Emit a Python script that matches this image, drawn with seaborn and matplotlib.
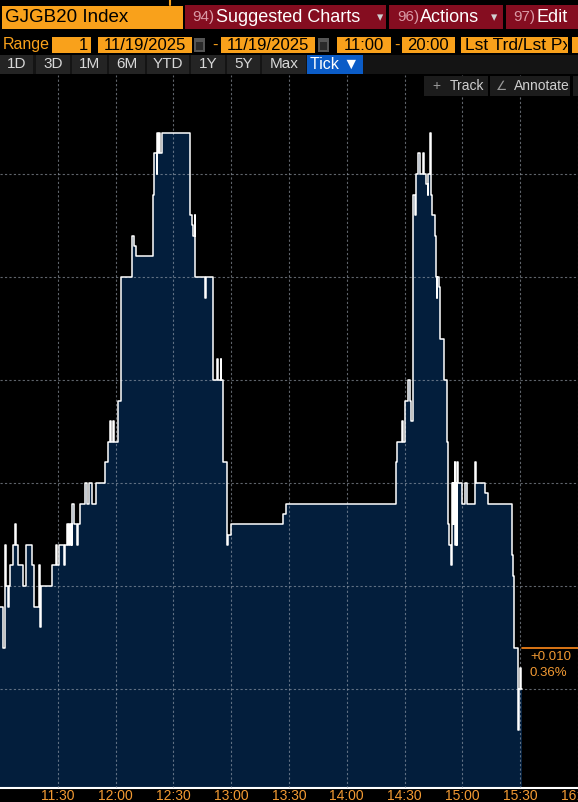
import matplotlib
matplotlib.use("Agg")
import matplotlib.pyplot as plt
import matplotlib.dates as mdates
from matplotlib.patches import Rectangle
from matplotlib.transforms import Bbox, TransformedBbox
import numpy as np
import pandas as pd
import seaborn as sns

# tick data (time of trade, yield)
times = [
    "11:00:00", "11:01:33", "11:02:45", "11:02:54", "11:04:18", "11:04:50", "11:05:21", "11:06:54",
    "11:07:56", "11:08:28", "11:09:11", "11:12:06", "11:13:45", "11:16:27", "11:17:48", "11:20:24",
    "11:20:46", "11:21:26", "11:27:09", "11:29:04", "11:29:26", "11:30:28", "11:33:22", "11:33:38",
    "11:34:56", "11:35:18", "11:35:49", "11:36:20", "11:36:51", "11:37:10", "11:37:32", "11:38:25",
    "11:40:07", "11:40:23", "11:41:41", "11:44:16", "11:45:19", "11:46:21", "11:47:45", "11:49:40",
    "11:54:30", "11:56:13", "11:57:15", "11:57:31", "11:58:48", "11:59:10", "12:01:24", "12:02:58",
    "12:08:31", "12:09:42", "12:10:45", "12:19:34", "12:20:05", "12:21:20", "12:21:39", "12:22:00",
    "12:22:32", "12:22:53", "12:24:14", "12:38:46", "12:39:30", "12:40:01", "12:41:13", "12:41:22",
    "12:46:34", "12:46:49", "12:50:43", "12:52:47", "12:53:18", "12:54:33", "12:54:52", "12:55:45",
    "12:57:34", "12:58:30", "12:59:54", "13:26:44", "13:28:17", "14:25:17", "14:26:13", "14:28:39",
    "14:29:01", "14:30:13", "14:31:55", "14:32:48", "14:33:10", "14:34:31", "14:35:33", "14:35:42",
    "14:37:07", "14:38:09", "14:39:33", "14:39:55", "14:40:57", "14:42:00", "14:42:18", "14:43:21",
    "14:43:33", "14:44:23", "14:45:37", "14:46:18", "14:46:40", "14:46:49", "14:47:42", "14:48:32",
    "14:50:36", "14:51:51", "14:52:41", "14:53:12", "14:53:56", "14:54:36", "14:54:58", "14:55:17",
    "14:55:38", "14:56:00", "14:56:19", "14:56:41", "14:57:02", "14:57:21", "14:57:43", "14:59:48",
    "15:01:31", "15:02:33", "15:06:42", "15:07:04", "15:11:44", "15:13:27", "15:25:54", "15:26:25",
    "15:26:56", "15:29:01", "15:29:23", "15:30:03", "15:30:25", "15:31:05",
]
yields = [
    2.800, 2.790, 2.815, 2.805, 2.800, 2.805, 2.810, 2.815,
    2.820, 2.815, 2.810, 2.805, 2.815, 2.810, 2.800, 2.810,
    2.795, 2.805, 2.810, 2.815, 2.810, 2.815, 2.810, 2.815,
    2.820, 2.815, 2.820, 2.815, 2.820, 2.815, 2.825, 2.820,
    2.815, 2.820, 2.825, 2.830, 2.825, 2.830, 2.825, 2.830,
    2.835, 2.840, 2.845, 2.840, 2.845, 2.840, 2.850, 2.880,
    2.890, 2.8875, 2.885, 2.900, 2.910, 2.905, 2.915, 2.910,
    2.915, 2.910, 2.915, 2.895, 2.8925, 2.890, 2.895, 2.880,
    2.875, 2.880, 2.855, 2.860, 2.855, 2.860, 2.855, 2.835,
    2.815, 2.8175, 2.820, 2.8225, 2.825, 2.835, 2.840, 2.845,
    2.840, 2.850, 2.855, 2.850, 2.845, 2.900, 2.895, 2.905,
    2.910, 2.905, 2.910, 2.905, 2.9025, 2.900, 2.905, 2.915,
    2.900, 2.895, 2.890, 2.880, 2.875, 2.880, 2.8775, 2.865,
    2.855, 2.840, 2.820, 2.815, 2.810, 2.830, 2.820, 2.830,
    2.820, 2.835, 2.815, 2.830, 2.815, 2.835, 2.830, 2.825,
    2.830, 2.825, 2.835, 2.830, 2.8275, 2.825, 2.8125, 2.8075,
    2.790, 2.770, 2.780, 2.785, 2.780, 2.780,
]
tick_labels = ["11:30", "12:00", "12:30", "13:00", "13:30", "14:00", "14:30", "15:00", "15:30", "16:00"]
y_grid = [2.780, 2.805, 2.830, 2.855, 2.880, 2.905]
day = "2025-11-19"
last_change = "+0.010"
last_pct = "0.36%"

AMBER = "#f9a11b"
RED = "#850d20"
NAVY = "#031e3c"
TICK_ORANGE = "#f29a33"

sns.set_style("dark", {"axes.facecolor": "black", "figure.facecolor": "black"})
plt.rcParams["font.family"] = ["Liberation Sans", "DejaVu Sans"]

df = pd.DataFrame({"time": pd.to_datetime([f"{day} {t}" for t in times]), "yield": yields})

fig = plt.figure(figsize=(5.78, 8.02), dpi=100)
fig.patch.set_facecolor("black")
ax = fig.add_axes([0, 14 / 802, 1, 713 / 802])
ax.set_facecolor("black")

y_lo, y_hi = 2.756, 2.929
ax.fill_between(df["time"], df["yield"], y_lo, step="post", color=NAVY, lw=0, zorder=1)
sns.lineplot(data=df, x="time", y="yield", drawstyle="steps-post", color="white",
             lw=1.1, ax=ax, zorder=4, estimator=None)

ax.set_xlim(pd.Timestamp(f"{day} 11:00"), pd.Timestamp(f"{day} 16:00"))
ax.set_ylim(y_lo, y_hi)
ax.set_xticks(pd.to_datetime([f"{day} {t}" for t in tick_labels]))
ax.xaxis.set_major_formatter(mdates.DateFormatter("%H:%M"))
ax.xaxis.set_minor_locator(mdates.MinuteLocator(byminute=[15, 45]))
ax.set_yticks(y_grid)
ax.set_axisbelow(False)
ax.grid(True, which="major", color="#a0a8b4", alpha=0.6, linestyle=(0, (2, 2)), lw=0.8)
ax.tick_params(axis="y", left=False, labelleft=False)
ax.tick_params(axis="x", which="major", length=0, pad=0.5, labelsize=10, labelcolor=TICK_ORANGE)
ax.tick_params(axis="x", which="minor", direction="in", length=4, width=1, color="white")
ax.set(xlabel=None, ylabel=None)
for s in ["top", "left", "right"]:
    ax.spines[s].set_visible(False)
ax.spines["bottom"].set_color("white")
ax.spines["bottom"].set_linewidth(1.5)

# screen furniture, drawn in pixel coordinates
ov = fig.add_axes([0, 0, 1, 1], facecolor="none")
ov.set_xlim(0, 578)
ov.set_ylim(802, 0)
ov.axis("off")


def box(x, y, w, h, color):
    ov.add_patch(Rectangle((x, y), w, h, color=color, lw=0))


ov.plot([170, 170], [0, 5], color=AMBER, lw=1.5)

# row 1
box(2, 6, 181, 23, AMBER)
ov.text(5, 18, "GJGB20 Index", color="black", fontsize=13.5, va="center")
box(185, 5, 201, 24, RED)
ov.text(192, 17.5, "94)", color="#d99aa6", fontsize=11, va="center")
ov.text(216, 17.5, "Suggested Charts", color="white", fontsize=13, va="center")
ov.text(377, 18, "▾", color="#d0d0d0", fontsize=9, va="center", family=["DejaVu Sans"])
box(389, 5, 114, 24, RED)
ov.text(397, 17.5, "96)", color="#d99aa6", fontsize=11, va="center")
ov.text(420, 17.5, "Actions", color="white", fontsize=13, va="center")
ov.text(491, 18, "▾", color="#d0d0d0", fontsize=9, va="center", family=["DejaVu Sans"])
box(506, 5, 72, 24, RED)
ov.text(513, 17.5, "97)", color="#d99aa6", fontsize=11, va="center")
ov.text(537, 17.5, "Edit", color="white", fontsize=13, va="center")

# row 2
ov.text(3, 45, "Range", color=AMBER, fontsize=11.5, va="center")
box(52, 37, 39, 16, AMBER)
ov.text(88, 45, "1", color="black", fontsize=12, va="center", ha="right")
box(98, 37, 94, 16, AMBER)
ov.text(104, 45, "11/19/2025", color="black", fontsize=12, va="center")
box(194, 38, 11, 14, "#555555")
box(196, 42, 7, 8, "#2a2a2a")
ov.text(215, 45, "-", color=AMBER, fontsize=12, va="center", ha="center")
box(221, 37, 94, 16, AMBER)
ov.text(227, 45, "11/19/2025", color="black", fontsize=12, va="center")
box(318, 38, 11, 14, "#555555")
box(320, 42, 7, 8, "#2a2a2a")
box(337, 37, 54, 16, AMBER)
ov.text(364, 45, "11:00", color="black", fontsize=12, va="center", ha="center")
ov.text(397, 45, "-", color=AMBER, fontsize=12, va="center", ha="center")
box(402, 37, 53, 16, AMBER)
ov.text(428, 45, "20:00", color="black", fontsize=12, va="center", ha="center")
box(461, 37, 107, 16, AMBER)
lst = ov.text(465, 45, "Lst Trd/Lst Px", color="black", fontsize=12.5, va="center")
lst.set_clip_box(TransformedBbox(Bbox([[461 / 578, 1 - 53 / 802], [567 / 578, 1 - 37 / 802]]),
                                 fig.transFigure))
lst.set_clip_on(True)
box(572, 37, 6, 16, AMBER)

# row 3
box(0, 55, 578, 19, "#141414")
buttons = [("1D", 0, 33), ("3D", 36, 34), ("1M", 72, 35), ("6M", 109, 36), ("YTD", 147, 42),
           ("1Y", 191, 34), ("5Y", 227, 33), ("Max", 262, 44)]
for lab, bx, bw in buttons:
    box(bx, 55, bw, 19, "#242424")
    ov.text(bx + bw / 2, 64.5, lab, color="#d8d8d8", fontsize=11, va="center", ha="center")
box(307, 55, 56, 19, "#0b5cc7")
ov.text(335, 64.5, "Tick ▼", color="white", fontsize=11.5, va="center", ha="center")

# track / annotate buttons
box(424, 76, 64, 20, "#1c1c1c")
ov.text(436, 86, "+", color="#9a9a9a", fontsize=10, va="center", ha="center")
ov.text(450, 86, "Track", color="#cfcfcf", fontsize=10, va="center")
box(490, 76, 80, 20, "#1c1c1c")
ov.text(502, 86, "∠", color="#9a9a9a", fontsize=9, va="center", ha="center",
        family=["DejaVu Sans"])
ov.text(514, 86, "Annotate", color="#cfcfcf", fontsize=10, va="center")
box(573, 76, 5, 20, "#1c1c1c")

# last value tag
ov.plot([522, 578], [648, 648], color="#ff8a1a", lw=1.2)
ov.text(530, 657, last_change, color=TICK_ORANGE, fontsize=9.5, va="center")
ov.text(530, 673, last_pct, color=TICK_ORANGE, fontsize=9.5, va="center")

fig.savefig("out.png", dpi=100, facecolor="black")
